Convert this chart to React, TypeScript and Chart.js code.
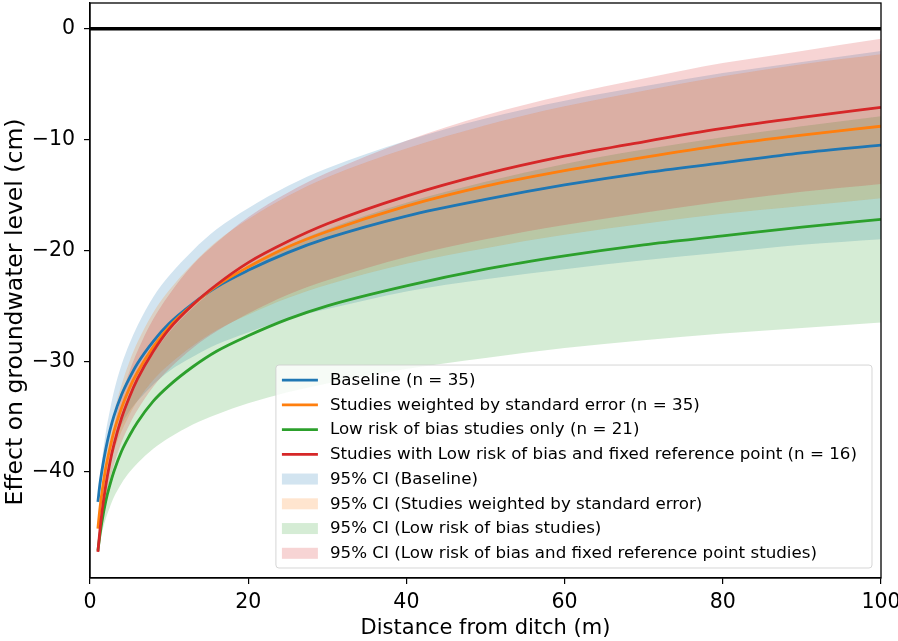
import React, { useEffect, useRef } from 'react';
import { Chart, registerables } from 'chart.js';

Chart.register(...registerables);

const W = 898;
const H = 641;
const FAMILY = "'DejaVu Sans', sans-serif";

// ---- data ----
const distance = [1, 1.25, 1.5, 2, 2.5, 3, 4, 5, 6, 8, 10, 13, 16, 20, 25, 30, 40, 50, 60, 70, 80, 90, 100];

const baselineMean = [-42.7, -41.1, -39.9, -37.9, -36.3, -35.0, -33.0, -31.5, -30.2, -28.2, -26.6, -24.8, -23.3, -21.8, -20.2, -18.9, -16.9, -15.4, -14.1, -13.0, -12.1, -11.2, -10.5];
const baselineUpper = [-42.5, -40.5, -39.0, -36.4, -34.5, -32.8, -30.3, -28.4, -26.8, -24.2, -22.3, -20.0, -18.1, -16.2, -14.2, -12.6, -10.1, -8.1, -6.5, -5.2, -4.0, -3.0, -2.0];
const baselineLower = [-42.9, -41.7, -40.8, -39.3, -38.1, -37.2, -35.7, -34.5, -33.6, -32.1, -30.9, -29.6, -28.5, -27.4, -26.2, -25.3, -23.7, -22.6, -21.7, -20.9, -20.2, -19.5, -19.0];

const weightedMean = [-45.1, -43.3, -41.9, -39.6, -37.9, -36.4, -34.2, -32.4, -31.0, -28.7, -26.9, -24.9, -23.2, -21.5, -19.7, -18.3, -16.0, -14.2, -12.8, -11.6, -10.5, -9.6, -8.8];
const weightedUpper = [-44.9, -42.8, -41.1, -38.5, -36.4, -34.7, -32.1, -30.0, -28.3, -25.6, -23.6, -21.2, -19.2, -17.2, -15.1, -13.4, -10.8, -8.7, -7.0, -5.6, -4.3, -3.2, -2.3];
const weightedLower = [-45.3, -43.9, -42.7, -40.8, -39.3, -38.1, -36.3, -34.8, -33.6, -31.7, -30.3, -28.6, -27.2, -25.8, -24.3, -23.1, -21.2, -19.8, -18.6, -17.6, -16.7, -16.0, -15.3];

const lowRiskMean = [-47.1, -45.7, -44.5, -42.6, -41.2, -40.0, -38.1, -36.7, -35.5, -33.6, -32.2, -30.5, -29.1, -27.7, -26.2, -25.0, -23.2, -21.7, -20.5, -19.5, -18.7, -17.9, -17.2];
const lowRiskUpper = [-46.9, -45.0, -43.5, -41.0, -39.1, -37.6, -35.2, -33.3, -31.7, -29.3, -27.4, -25.2, -23.4, -21.5, -19.6, -18.1, -15.7, -13.8, -12.2, -10.9, -9.8, -8.8, -7.9];
const lowRiskLower = [-47.3, -46.3, -45.5, -44.2, -43.2, -42.3, -41.0, -40.0, -39.2, -37.9, -36.9, -35.7, -34.8, -33.8, -32.8, -32.0, -30.7, -29.7, -28.8, -28.1, -27.5, -27.0, -26.5];

const fixedRefMean = [-47.2, -45.3, -43.7, -41.2, -39.2, -37.6, -35.1, -33.2, -31.6, -29.1, -27.1, -24.9, -23.1, -21.1, -19.2, -17.6, -15.1, -13.1, -11.5, -10.2, -9.0, -8.0, -7.1];
const fixedRefUpper = [-47.0, -44.8, -42.9, -40.1, -37.8, -36.0, -33.1, -30.9, -29.1, -26.2, -24.0, -21.3, -19.3, -17.0, -14.8, -13.0, -10.1, -7.8, -6.0, -4.5, -3.1, -2.0, -0.9];
const fixedRefLower = [-47.4, -45.8, -44.5, -42.4, -40.7, -39.4, -37.3, -35.7, -34.4, -32.3, -30.7, -28.8, -27.3, -25.7, -24.0, -22.7, -20.6, -19.0, -17.7, -16.6, -15.6, -14.7, -14.0];

const lineLabels = [
  'Baseline (n = 35)',
  'Studies weighted by standard error (n = 35)',
  'Low risk of bias studies only (n = 21)',
  'Studies with Low risk of bias and fixed reference point (n = 16)',
];
const bandLabels = [
  '95% CI (Baseline)',
  '95% CI (Studies weighted by standard error)',
  '95% CI (Low risk of bias studies)',
  '95% CI (Low risk of bias and fixed reference point studies)',
];
const xTitle = 'Distance from ditch (m)';
const yTitle = 'Effect on groundwater level (cm)';
const xTicks = [0, 20, 40, 60, 80, 100];
const yTicks = [-40, -30, -20, -10, 0];

const colors = ['#1f77b4', '#ff7f0e', '#2ca02c', '#d62728'];
const fills = ['rgba(31,119,180,0.2)', 'rgba(255,127,14,0.2)', 'rgba(44,160,44,0.2)', 'rgba(214,39,40,0.2)'];

const fmt = (v: number) => (v < 0 ? '\u2212' + Math.abs(v) : String(v));

const frameAndLegend = {
  id: 'frameAndLegend',
  afterDraw(chart: any) {
    const { ctx, chartArea } = chart;
    ctx.save();
    // full frame
    ctx.strokeStyle = '#000';
    ctx.lineWidth = 1.3;
    ctx.strokeRect(chartArea.left, chartArea.top, chartArea.right - chartArea.left, chartArea.bottom - chartArea.top);

    // y axis title
    ctx.save();
    ctx.translate(15.5, 312);
    ctx.rotate(-Math.PI / 2);
    ctx.font = `23.5px ${FAMILY}`;
    ctx.fillStyle = '#000';
    ctx.textAlign = 'center';
    ctx.textBaseline = 'middle';
    ctx.fillText(yTitle, 0, 0);
    ctx.restore();

    // legend
    const items = chart.data.datasets
      .filter((d: any) => d.legendKind)
      .sort((a: any, b: any) => a.legendIndex - b.legendIndex);
    ctx.font = `16.7px ${FAMILY}`;
    let maxW = 0;
    items.forEach((d: any) => {
      maxW = Math.max(maxW, ctx.measureText(d.legendLabel).width);
    });
    const rowH = 24.75;
    const boxW = maxW + 54 + 15;
    const boxH = 15 + rowH * (items.length - 1) + 14.7;
    const right = chartArea.right - 9;
    const bottom = chartArea.bottom - 10;
    const left = right - boxW;
    const top = bottom - boxH;
    const r = 3;
    ctx.beginPath();
    ctx.moveTo(left + r, top);
    ctx.lineTo(right - r, top);
    ctx.arcTo(right, top, right, top + r, r);
    ctx.lineTo(right, bottom - r);
    ctx.arcTo(right, bottom, right - r, bottom, r);
    ctx.lineTo(left + r, bottom);
    ctx.arcTo(left, bottom, left, bottom - r, r);
    ctx.lineTo(left, top + r);
    ctx.arcTo(left, top, left + r, top, r);
    ctx.closePath();
    ctx.fillStyle = 'rgba(255,255,255,0.8)';
    ctx.fill();
    ctx.strokeStyle = 'rgba(204,204,204,0.8)';
    ctx.lineWidth = 1;
    ctx.stroke();

    items.forEach((d: any, i: number) => {
      const y = top + 15 + i * rowH;
      if (d.legendKind === 'line') {
        ctx.strokeStyle = d.borderColor;
        ctx.lineWidth = 2.8;
        ctx.beginPath();
        ctx.moveTo(left + 6, y);
        ctx.lineTo(left + 42, y);
        ctx.stroke();
      } else {
        ctx.fillStyle = d.backgroundColor;
        ctx.fillRect(left + 6, y - 5.5, 36, 11);
      }
      ctx.fillStyle = '#000';
      ctx.textBaseline = 'middle';
      ctx.textAlign = 'left';
      ctx.fillText(d.legendLabel, left + 54, y + 0.5);
    });
    ctx.restore();
  },
};

export default function App() {
  const ref = useRef<HTMLCanvasElement>(null);

  useEffect(() => {
    document.body.style.margin = '0';
    const canvas = ref.current;
    if (!canvas) return;
    const pts = (ys: number[]) => distance.map((x, i) => ({ x, y: ys[i] }));

    const means = [baselineMean, weightedMean, lowRiskMean, fixedRefMean];
    const uppers = [baselineUpper, weightedUpper, lowRiskUpper, fixedRefUpper];
    const lowers = [baselineLower, weightedLower, lowRiskLower, fixedRefLower];

    const datasets: any[] = [];
    // zero line
    datasets.push({
      data: [{ x: 0, y: 0 }, { x: 100, y: 0 }],
      borderColor: '#000',
      borderWidth: 3.5,
      pointRadius: 0,
      fill: false,
      order: 0,
    });
    // mean lines
    means.forEach((m, i) => {
      datasets.push({
        data: pts(m),
        borderColor: colors[i],
        backgroundColor: colors[i],
        borderWidth: 2.8,
        pointRadius: 0,
        fill: false,
        cubicInterpolationMode: 'monotone',
        order: 4 - i,
        legendKind: 'line',
        legendLabel: lineLabels[i],
        legendIndex: i,
      });
    });
    // CI bands
    uppers.forEach((u, i) => {
      datasets.push({
        data: pts(u),
        borderWidth: 0,
        borderColor: 'rgba(0,0,0,0)',
        pointRadius: 0,
        fill: false,
        cubicInterpolationMode: 'monotone',
        order: 8 - i,
      });
      datasets.push({
        data: pts(lowers[i]),
        borderWidth: 0,
        borderColor: 'rgba(0,0,0,0)',
        backgroundColor: fills[i],
        pointRadius: 0,
        fill: '-1',
        cubicInterpolationMode: 'monotone',
        order: 8 - i,
        legendKind: 'patch',
        legendLabel: bandLabels[i],
        legendIndex: 4 + i,
      });
    });

    const tickFont = { size: 20.5, family: FAMILY };

    const chart = new Chart(canvas, {
      type: 'line',
      data: { datasets },
      options: {
        responsive: false,
        animation: false,
        parsing: false as any,
        normalized: true,
        layout: { padding: { top: 3, right: 17, left: 0, bottom: 0 } },
        plugins: {
          legend: { display: false },
          tooltip: { enabled: false },
        },
        scales: {
          x: {
            type: 'linear',
            min: 0,
            max: 100,
            afterBuildTicks: (s: any) => {
              s.ticks = xTicks.map((value) => ({ value }));
            },
            afterFit: (s: any) => {
              s.height = 63;
              s.paddingLeft = 0;
              s.paddingRight = 0;
            },
            ticks: {
              font: tickFont,
              color: '#000',
              padding: 6,
              maxRotation: 0,
              autoSkip: false,
              callback: (v: any) => fmt(Number(v)),
            },
            grid: {
              display: true,
              drawOnChartArea: false,
              drawTicks: true,
              tickLength: 6,
              color: '#000',
              lineWidth: 1.2,
            },
            border: { display: true, color: '#000', width: 1.3 },
            title: {
              display: true,
              text: xTitle,
              font: { size: 21, family: FAMILY },
              color: '#000',
              padding: { top: 0, bottom: 0 },
            },
          },
          y: {
            type: 'linear',
            min: -49.56,
            max: 2.32,
            afterBuildTicks: (s: any) => {
              s.ticks = yTicks.map((value) => ({ value }));
            },
            afterFit: (s: any) => {
              s.width = 90;
              s.paddingTop = 0;
              s.paddingBottom = 0;
            },
            ticks: {
              font: tickFont,
              color: '#000',
              padding: 9,
              autoSkip: false,
              callback: (v: any) => fmt(Number(v)),
            },
            grid: {
              display: true,
              drawOnChartArea: false,
              drawTicks: true,
              tickLength: 6,
              color: '#000',
              lineWidth: 1.2,
            },
            border: { display: true, color: '#000', width: 1.3 },
            title: { display: false },
          },
        },
      } as any,
      plugins: [frameAndLegend],
    });

    return () => chart.destroy();
  }, []);

  return (
    <div style={{ width: W, height: H }}>
      <canvas ref={ref} width={W} height={H} style={{ display: 'block', width: W, height: H }} />
    </div>
  );
}
